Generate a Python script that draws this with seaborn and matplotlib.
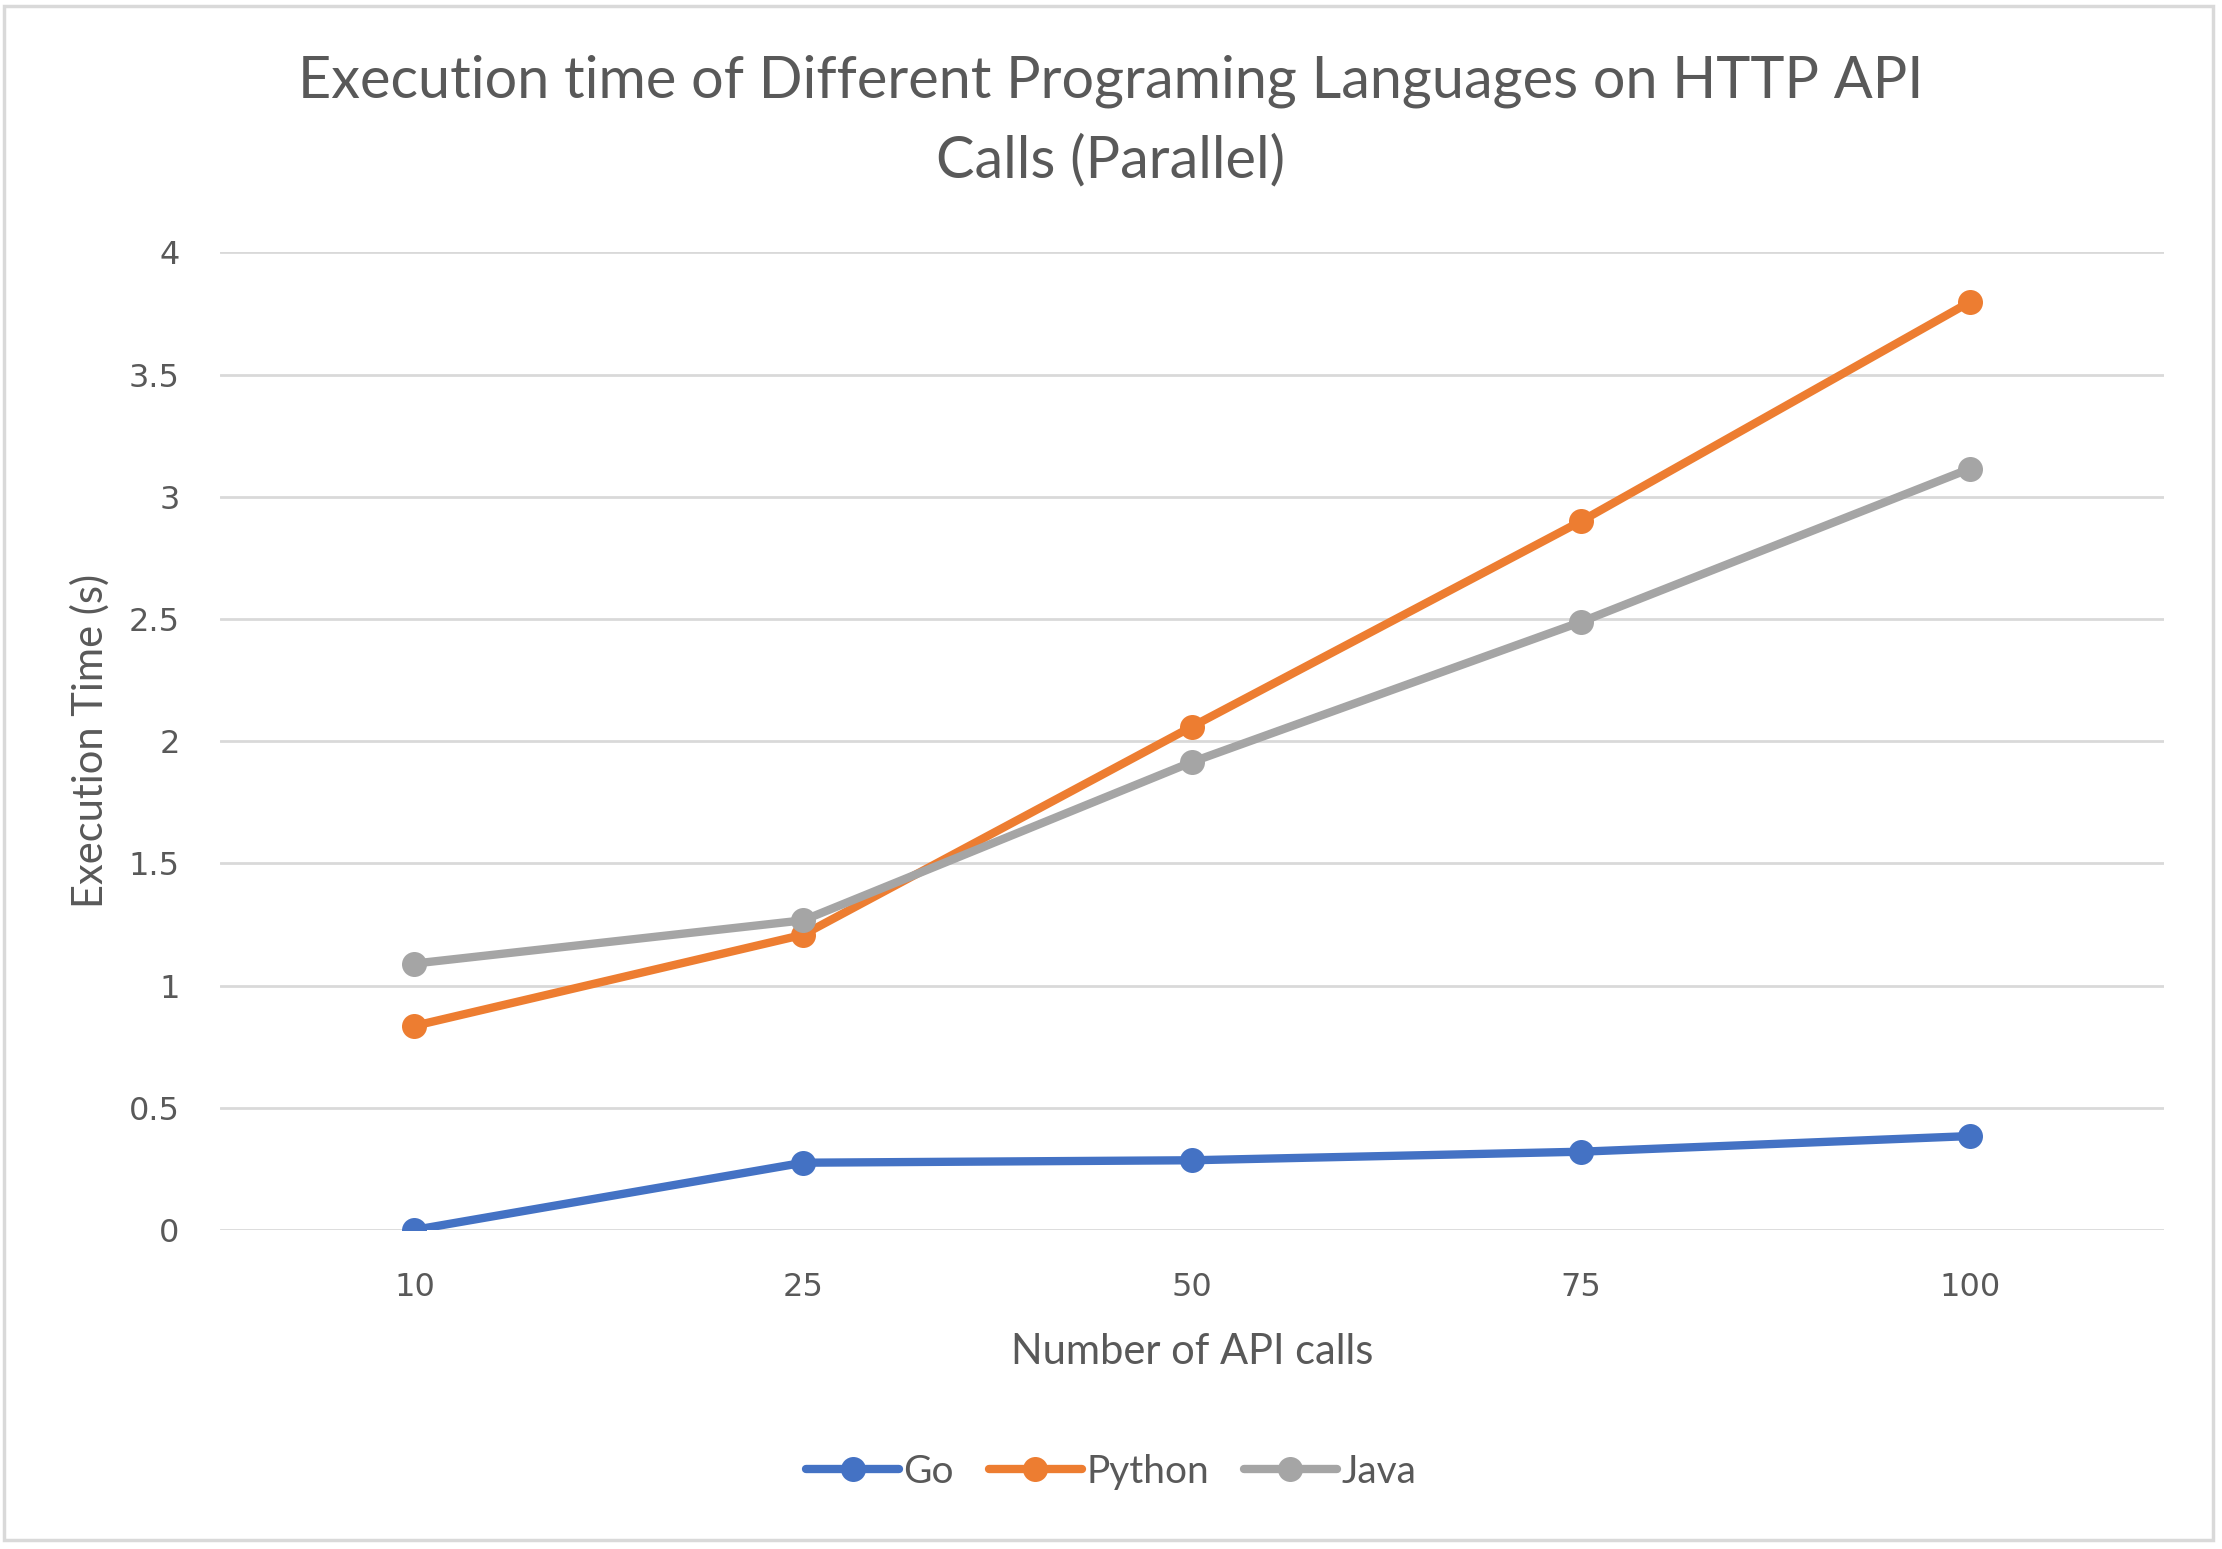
import matplotlib
matplotlib.use("Agg")
import matplotlib.pyplot as plt
import seaborn as sns
import pandas as pd
from matplotlib.patches import Rectangle
from matplotlib.lines import Line2D

categories = ["10", "25", "50", "75", "100"]
go_times = [0.0, 0.275, 0.285, 0.32, 0.384]
python_times = [0.835, 1.208, 2.06, 2.90, 3.797]
java_times = [1.09, 1.267, 1.915, 2.488, 3.115]
series_names = ["Go", "Python", "Java"]
colors = ["#4472C4", "#ED7D31", "#A5A5A5"]
yticks = [0, 0.5, 1, 1.5, 2, 2.5, 3, 3.5, 4]
ytick_labels = ["0", "0.5", "1", "1.5", "2", "2.5", "3", "3.5", "4"]

rows = []
for name, vals in zip(series_names, [go_times, python_times, java_times]):
    for c, v in zip(categories, vals):
        rows.append({"calls": c, "time": v, "lang": name})
df = pd.DataFrame(rows)

sns.set_theme(style="white")
narrow = ["Liberation Sans Narrow", "Lato", "DejaVu Sans"]
plt.rcParams["font.family"] = narrow
text_color = "#595959"

fig = plt.figure(figsize=(22.22, 15.49), dpi=100)
ax = fig.add_axes([0.099, 0.206, 0.875, 0.631])

sns.lineplot(data=df, x="calls", y="time", hue="lang", hue_order=series_names,
             palette=colors, marker="o", markersize=18, linewidth=6,
             markeredgewidth=0, ax=ax, legend=False, sort=False)

ax.set_xlim(-0.5, 4.5)
ax.set_ylim(0, 4)
ax.set_yticks(yticks)
ax.set_yticklabels(ytick_labels)
ax.grid(axis="y", color="#D9D9D9", linewidth=2)
ax.grid(axis="x", visible=False)
for s in ax.spines.values():
    s.set_visible(False)
ax.tick_params(axis="both", length=0, labelsize=23, labelcolor=text_color)
ax.tick_params(axis="y", pad=29)
ax.tick_params(axis="x", pad=30)
for lab in ax.get_xticklabels() + ax.get_yticklabels():
    lab.set_fontfamily(["DejaVu Sans"])
ax.set_xlabel("Number of API calls", fontsize=30, color=text_color, labelpad=22)
ax.set_ylabel("Execution Time (s)", fontsize=30, color=text_color, labelpad=14)

fig.text(0.5, 0.922, "Execution time of Different Programing Languages on HTTP API\nCalls (Parallel)",
         ha="center", va="center", fontsize=41.5, color=text_color, linespacing=1.6)

handles = [Line2D([0], [0], color=c, lw=6, marker="o", markersize=18, markeredgewidth=0,
                  solid_capstyle="round") for c in colors]
leg = fig.legend(handles, series_names, loc="center", bbox_to_anchor=(0.5, 0.05), ncol=3,
                 frameon=False, fontsize=28, handlelength=2.4, handletextpad=0.1,
                 columnspacing=0.9)
for t in leg.get_texts():
    t.set_color(text_color)

fig.patches.append(Rectangle((0.002, 0.006), 0.994, 0.99, transform=fig.transFigure,
                             fill=False, edgecolor="#D9D9D9", linewidth=2.5))

fig.savefig("out.png", dpi=100, facecolor="white")
